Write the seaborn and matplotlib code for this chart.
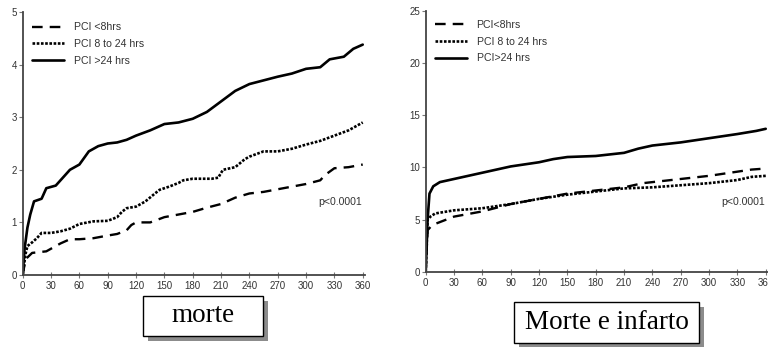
import numpy as np
import pandas as pd
import matplotlib
matplotlib.use("Agg")
import matplotlib.pyplot as plt
from matplotlib.patches import Rectangle
import seaborn as sns

sns.set_style("ticks")
plt.rcParams["font.family"] = ["Liberation Sans", "DejaVu Sans"]

labels_left = ["PCI <8hrs", "PCI 8 to 24 hrs", "PCI >24 hrs"]
labels_right = ["PCI<8hrs", "PCI 8 to 24 hrs", "PCI>24 hrs"]
x_ticks = [0, 30, 60, 90, 120, 150, 180, 210, 240, 270, 300, 330, 360]

# --- morte (left panel) ---
m_lt8_days = [0, 3, 10, 25, 30, 40, 50, 60, 75, 90, 100, 110, 115, 120, 135, 150, 165, 180, 195, 210,
              225, 240, 255, 270, 285, 300, 315, 320, 330, 345, 360]
m_lt8_vals = [0, 0.3, 0.42, 0.45, 0.5, 0.6, 0.68, 0.68, 0.7, 0.75, 0.78, 0.85, 0.95, 1.0, 1.0, 1.1, 1.15,
              1.2, 1.28, 1.35, 1.47, 1.55, 1.58, 1.63, 1.68, 1.73, 1.8, 1.9, 2.03, 2.05, 2.1]
m_8to24_days = [0, 3, 5, 10, 15, 20, 30, 40, 50, 60, 75, 90, 100, 105, 110, 120, 130, 140, 145, 155, 165,
                170, 180, 200, 207, 212, 225, 235, 240, 255, 270, 285, 300, 315, 330, 345, 360]
m_8to24_vals = [0, 0.4, 0.55, 0.62, 0.7, 0.8, 0.8, 0.83, 0.88, 0.97, 1.02, 1.03, 1.1, 1.2, 1.27, 1.3, 1.4,
                1.55, 1.62, 1.68, 1.75, 1.8, 1.83, 1.83, 1.85, 2.0, 2.05, 2.2, 2.25, 2.35, 2.35, 2.4, 2.48,
                2.55, 2.65, 2.75, 2.9]
m_gt24_days = [0, 2, 5, 8, 12, 20, 25, 35, 45, 50, 60, 70, 80, 90, 100, 110, 120, 135, 150, 165, 180, 195,
               210, 225, 240, 255, 270, 285, 300, 315, 325, 340, 350, 360]
m_gt24_vals = [0, 0.5, 0.9, 1.15, 1.4, 1.45, 1.65, 1.7, 1.9, 2.0, 2.1, 2.35, 2.45, 2.5, 2.52, 2.57, 2.65,
               2.75, 2.87, 2.9, 2.97, 3.1, 3.3, 3.5, 3.63, 3.7, 3.77, 3.83, 3.92, 3.95, 4.1, 4.15, 4.3, 4.38]

# --- morte e infarto (right panel) ---
mi_lt8_days = [0, 2, 5, 10, 30, 60, 90, 120, 150, 180, 210, 230, 240, 270, 300, 330, 345, 360]
mi_lt8_vals = [0, 4.0, 4.3, 4.6, 5.3, 5.8, 6.5, 7.0, 7.5, 7.8, 8.1, 8.5, 8.6, 8.9, 9.2, 9.6, 9.8, 9.9]
mi_8to24_days = [0, 2, 5, 10, 30, 60, 90, 120, 150, 180, 210, 240, 270, 300, 330, 345, 360]
mi_8to24_vals = [0, 5.0, 5.3, 5.6, 5.9, 6.1, 6.5, 7.0, 7.4, 7.7, 8.0, 8.1, 8.3, 8.5, 8.8, 9.1, 9.2]
mi_gt24_days = [0, 2, 4, 8, 15, 30, 45, 60, 75, 90, 105, 120, 135, 150, 180, 210, 225, 240, 270, 300,
                330, 350, 360]
mi_gt24_vals = [0, 5.0, 7.5, 8.2, 8.6, 8.9, 9.2, 9.5, 9.8, 10.1, 10.3, 10.5, 10.8, 11.0, 11.1, 11.4,
                11.8, 12.1, 12.4, 12.8, 13.2, 13.5, 13.7]

captions = ["morte", "Morte e infarto"]
pval = "p<0.0001"

W, H = 768, 347
fig = plt.figure(figsize=(W / 100, H / 100), dpi=100)
fig.patch.set_facecolor("white")

line_styles = [
    dict(linestyle=(0, (4.5, 3)), linewidth=1.7),
    dict(linestyle=(0, (1, 0.6)), linewidth=1.9),
    dict(linestyle="-", linewidth=1.9),
]


def panel(rect, series, labels, ymax, yticks, legend_y):
    ax = fig.add_axes(rect)
    for (d, v), lab, st in zip(series, labels, line_styles):
        sns.lineplot(x=d, y=v, ax=ax, color="black", label=lab, **st)
    ax.set_xlim(0, 362.5)
    ax.set_ylim(0, ymax)
    ax.set_xticks(x_ticks)
    ax.set_yticks(yticks)
    ax.set_xlabel("")
    ax.set_ylabel("")
    for s in ["top", "right"]:
        ax.spines[s].set_visible(False)
    for s in ["left", "bottom"]:
        ax.spines[s].set_color("#444444")
        ax.spines[s].set_linewidth(1.3)
    ax.tick_params(axis="x", direction="inout", length=5, width=0.8, color="#777777",
                   labelsize=7, labelcolor="#333333", pad=2)
    ax.tick_params(axis="y", direction="out", length=3, width=0.8, color="#777777",
                   labelsize=7, labelcolor="#333333", pad=1)
    leg = ax.legend(loc="upper left", bbox_to_anchor=(0.01, legend_y), frameon=False,
                    fontsize=7.6, handlelength=3.0, handletextpad=0.9, labelspacing=0.65,
                    borderaxespad=0.2)
    for t in leg.get_texts():
        t.set_color("#333333")
    ax.set_facecolor("white")
    return ax


axL = panel([22.7 / W, 72 / H, 342.4 / W, 263 / H],
            [(m_lt8_days, m_lt8_vals), (m_8to24_days, m_8to24_vals), (m_gt24_days, m_gt24_vals)],
            labels_left, 5, [0, 1, 2, 3, 4, 5], 0.985)
axL.text(336, 1.39, pval, ha="center", va="center", fontsize=7.6, color="#333333")

axR = panel([425.7 / W, 75 / H, 342.4 / W, 261.3 / H],
            [(mi_lt8_days, mi_lt8_vals), (mi_8to24_days, mi_8to24_vals), (mi_gt24_days, mi_gt24_vals)],
            labels_right, 25, [0, 5, 10, 15, 20, 25], 0.99)
axR.text(336, 6.7, pval, ha="center", va="center", fontsize=7.6, color="#333333")


def caption_box(x0, y0, x1, y1, text, size):
    # pixel coordinates measured from top-left
    w = (x1 - x0) / W
    h = (y1 - y0) / H
    fx = x0 / W
    fy = (H - y1) / H
    shadow = Rectangle((fx + 5 / W, fy - 5 / H), w, h, transform=fig.transFigure,
                       facecolor="#8c8c8c", edgecolor="none", zorder=1)
    box = Rectangle((fx, fy), w, h, transform=fig.transFigure,
                    facecolor="white", edgecolor="black", linewidth=1.0, zorder=2)
    fig.patches.extend([shadow, box])
    fig.text(fx + w / 2, fy + h / 2, text, ha="center", va="center",
             family=["Liberation Serif", "DejaVu Serif"], fontsize=size, color="black", zorder=3)


caption_box(143, 296, 263, 336, captions[0], 19.5)
caption_box(514, 302, 699, 343, captions[1], 19.5)

fig.savefig("out.png", dpi=100, facecolor="white")
